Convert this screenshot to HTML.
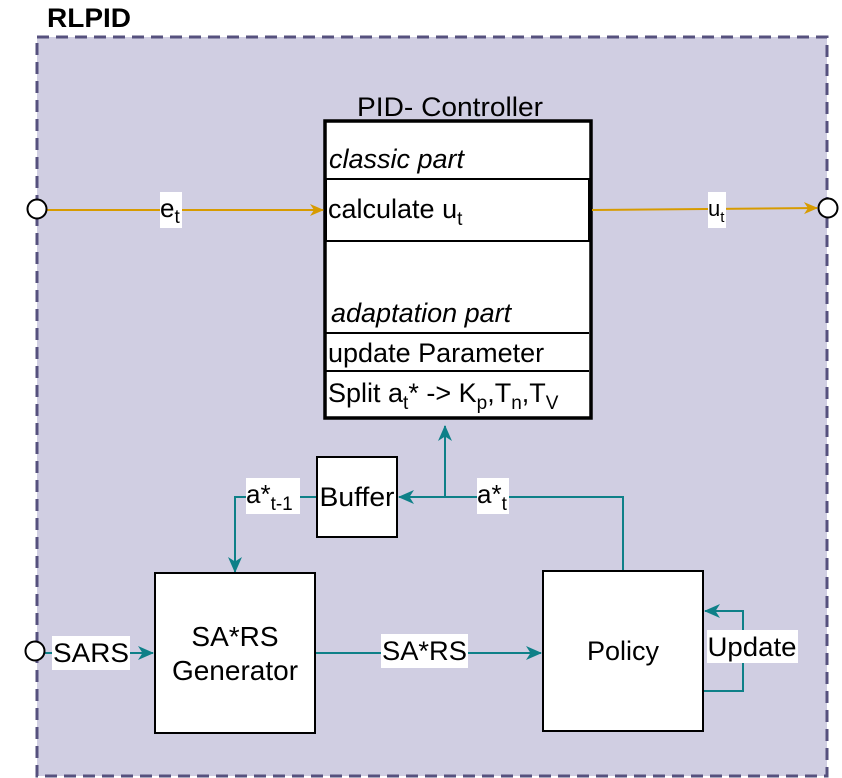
<!DOCTYPE html>
<html><head><meta charset="utf-8"><style>
body{margin:0;background:#fff;}
svg{display:block;font-family:"Liberation Sans",sans-serif;}
</style></head><body>
<svg width="842" height="778" viewBox="0 0 842 778" xmlns="http://www.w3.org/2000/svg">
<defs>
<marker id="ao" markerWidth="14" markerHeight="14" refX="13" refY="7" orient="auto" markerUnits="userSpaceOnUse"><path d="M0,1 L14,7 L0,13 L4,7 Z" fill="#d79b00"/></marker>
<marker id="at" markerWidth="16" markerHeight="16" refX="15" refY="8" orient="auto" markerUnits="userSpaceOnUse"><path d="M0,1 L16,8 L0,15 L4.5,8 Z" fill="#0e8088"/></marker>
</defs>
<text x="47" y="27" font-size="27" font-weight="bold" textLength="84" lengthAdjust="spacingAndGlyphs">RLPID</text>
<rect x="37" y="37" width="790" height="739" fill="#d0cee2" stroke="#56517e" stroke-width="3" stroke-dasharray="12 7"/>
<text x="450" y="116" font-size="27" text-anchor="middle" textLength="186" lengthAdjust="spacingAndGlyphs">PID- Controller</text>
<rect x="325" y="121" width="266" height="297" fill="#fff" stroke="#000" stroke-width="3.5"/>
<rect x="326" y="179" width="263" height="62" fill="#fff" stroke="#000" stroke-width="2"/>
<line x1="326" y1="333" x2="589" y2="333" stroke="#000" stroke-width="2"/>
<line x1="326" y1="371" x2="589" y2="371" stroke="#000" stroke-width="2"/>
<text x="329" y="168" font-size="27" font-style="italic">classic part</text>
<text x="328" y="218" font-size="27">calculate u<tspan font-size="19" dy="7">t</tspan></text>
<text x="331" y="322" font-size="27" font-style="italic">adaptation part</text>
<text x="328" y="362" font-size="27">update Parameter</text>
<text x="328" y="402" font-size="27">Split a<tspan font-size="19" dy="7">t</tspan><tspan dy="-7">* -&gt; K</tspan><tspan font-size="19" dy="7">p</tspan><tspan dy="-7">,T</tspan><tspan font-size="19" dy="7">n</tspan><tspan dy="-7">,T</tspan><tspan font-size="19" dy="7">V</tspan></text>
<line x1="47" y1="210" x2="323" y2="210" stroke="#d79b00" stroke-width="2" marker-end="url(#ao)"/>
<circle cx="37" cy="209" r="9.5" fill="#fff" stroke="#000" stroke-width="2"/>
<rect x="160" y="192" width="22" height="36" fill="#fff"/>
<text x="160" y="217" font-size="26">e<tspan font-size="19" dy="6">t</tspan></text>
<line x1="592" y1="210" x2="817" y2="208" stroke="#d79b00" stroke-width="2" marker-end="url(#ao)"/>
<circle cx="828" cy="208" r="9.5" fill="#fff" stroke="#000" stroke-width="2"/>
<rect x="708" y="192" width="18" height="36" fill="#fff"/>
<text x="708" y="216" font-size="22">u<tspan font-size="15" dy="6">t</tspan></text>
<g stroke="#0e8088" stroke-width="2" fill="none">
<polyline points="623,571 623,497 399,497" marker-end="url(#at)"/>
<polyline points="445,497 445,426" marker-end="url(#at)"/>
<polyline points="317,497 235,497 235,572" marker-end="url(#at)"/>
<polyline points="703,691 743,691 743,611 705,611" marker-end="url(#at)"/>
<polyline points="45,653 153,653" marker-end="url(#at)"/>
<polyline points="315,653 541,653" marker-end="url(#at)"/>
</g>
<rect x="317" y="457" width="80" height="80" fill="#fff" stroke="#000" stroke-width="2"/>
<text x="357" y="506" font-size="27" text-anchor="middle" textLength="75" lengthAdjust="spacingAndGlyphs">Buffer</text>
<rect x="155" y="573" width="160" height="160" fill="#fff" stroke="#000" stroke-width="2"/>
<text x="235" y="646" font-size="28" text-anchor="middle">SA*RS</text>
<text x="235" y="680" font-size="28" text-anchor="middle">Generator</text>
<rect x="543" y="571" width="160" height="160" fill="#fff" stroke="#000" stroke-width="2"/>
<text x="623" y="660" font-size="27" text-anchor="middle">Policy</text>
<rect x="477" y="478" width="32" height="36" fill="#fff"/>
<text x="477" y="503" font-size="26">a*<tspan font-size="19" dy="7">t</tspan></text>
<rect x="246" y="478" width="54" height="36" fill="#fff"/>
<text x="246" y="503" font-size="26">a*<tspan font-size="19" dy="7">t-1</tspan></text>
<rect x="707" y="630" width="91" height="33" fill="#fff"/>
<text x="752" y="656" font-size="27" text-anchor="middle" textLength="89" lengthAdjust="spacingAndGlyphs">Update</text>
<circle cx="35" cy="651" r="9.5" fill="#fff" stroke="#000" stroke-width="2"/>
<rect x="52" y="636" width="78" height="34" fill="#fff"/>
<text x="91" y="662" font-size="27" text-anchor="middle" textLength="76" lengthAdjust="spacingAndGlyphs">SARS</text>
<rect x="381" y="634" width="87" height="34" fill="#fff"/>
<text x="424.5" y="660" font-size="27" text-anchor="middle" textLength="85" lengthAdjust="spacingAndGlyphs">SA*RS</text>
</svg>
</body></html>
